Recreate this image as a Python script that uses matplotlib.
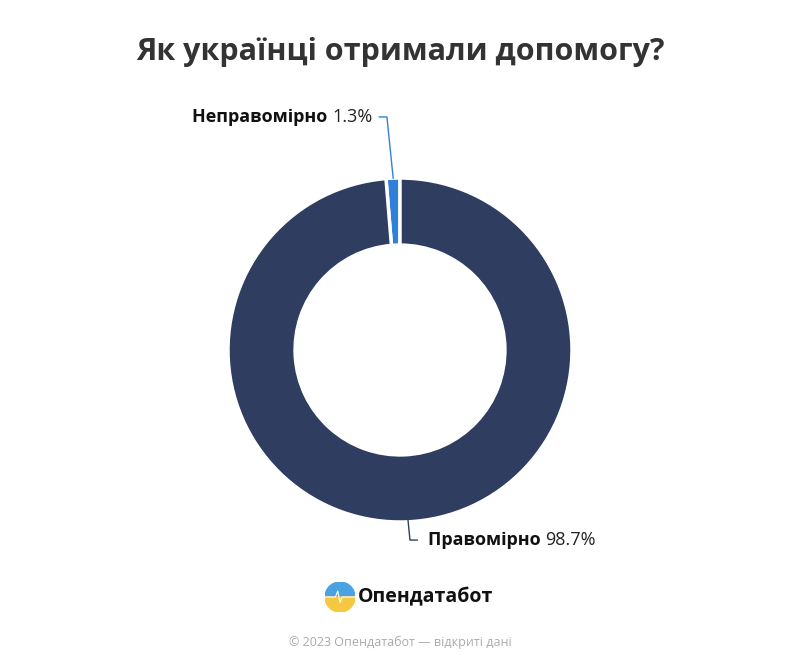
import numpy as np
import matplotlib
matplotlib.use("Agg")
import matplotlib.pyplot as plt
from matplotlib.patches import Wedge, Circle

plt.rcParams['font.family'] = ['Open Sans', 'DejaVu Sans']

labels = ["Неправомірно", "Правомірно"]
values = [1.3, 98.7]
colors = ["#2f80d8", "#2e3d60"]
title = "Як українці отримали допомогу?"

fig = plt.figure(figsize=(8, 6.67), dpi=100)
fig.patch.set_facecolor("white")
R = 172
ax = fig.add_axes([0.5 - R/800, (667-350-R)/667, 2*R/800, 2*R/667])
wedges, _ = ax.pie(values, colors=colors, startangle=90, counterclock=True,
                   radius=1, wedgeprops=dict(width=0.39, edgecolor="white", linewidth=2.5))
ax.set_xlim(-1, 1); ax.set_ylim(-1, 1); ax.axis("off")

def mid(w):
    a = np.deg2rad((w.theta1 + w.theta2) / 2)
    return np.cos(a), np.sin(a)

# small slice label
cx, cy = mid(wedges[0])
ax.plot([cx*0.97, -0.076, -0.12], [cy*1.0, 1.355, 1.355], color="#2f80d8", lw=1, clip_on=False)
pct = ax.text(-0.16, 1.355, f"{values[0]}%", ha="right", va="center", fontsize=13, color="#222")
ax.annotate(labels[0] + " ", xy=(0, 0.5), xycoords=pct, ha="right", va="center",
            fontsize=13, fontweight="bold", color="#111")

# big slice label
cx, cy = mid(wedges[1])
ax.plot([cx, 0.058, 0.1], [cy*0.93, -1.105, -1.105], color="#2e3d60", lw=1, clip_on=False)
nm = ax.text(0.16, -1.105, labels[1] + " ", ha="left", va="center", fontsize=13,
             fontweight="bold", color="#111")
ax.annotate(f"{values[1]}%", xy=(1, 0.5), xycoords=nm, ha="left", va="center",
            fontsize=13, color="#222")

fig.text(0.5, 1 - 52/667, title, ha="center", va="center", fontsize=22,
         fontweight="bold", color="#333")

# logo
lax = fig.add_axes([(340-15)/800, (667-597-15)/667, 30/800, 30/667])
lax.set_xlim(-1, 1); lax.set_ylim(-1, 1); lax.set_aspect("equal"); lax.axis("off")
lax.add_patch(Wedge((0, 0), 1, 0, 180, color="#4aa3e0"))
lax.add_patch(Wedge((0, 0), 1, 180, 360, color="#f5c842"))
lax.plot([-1, -0.3, -0.15, 0, 0.15, 1], [0, 0, 0.4, -0.35, 0, 0], color="white", lw=0.8)
fig.text(358/800, 1 - 597/667, "Опендатабот", ha="left", va="center", fontsize=14,
         fontweight="bold", color="#111")
fig.text(0.5, 1 - 642/667, "© 2023 Опендатабот — відкриті дані", ha="center", va="center",
         fontsize=9, color="#aaa")

fig.savefig("out.png", dpi=100, facecolor="white")
